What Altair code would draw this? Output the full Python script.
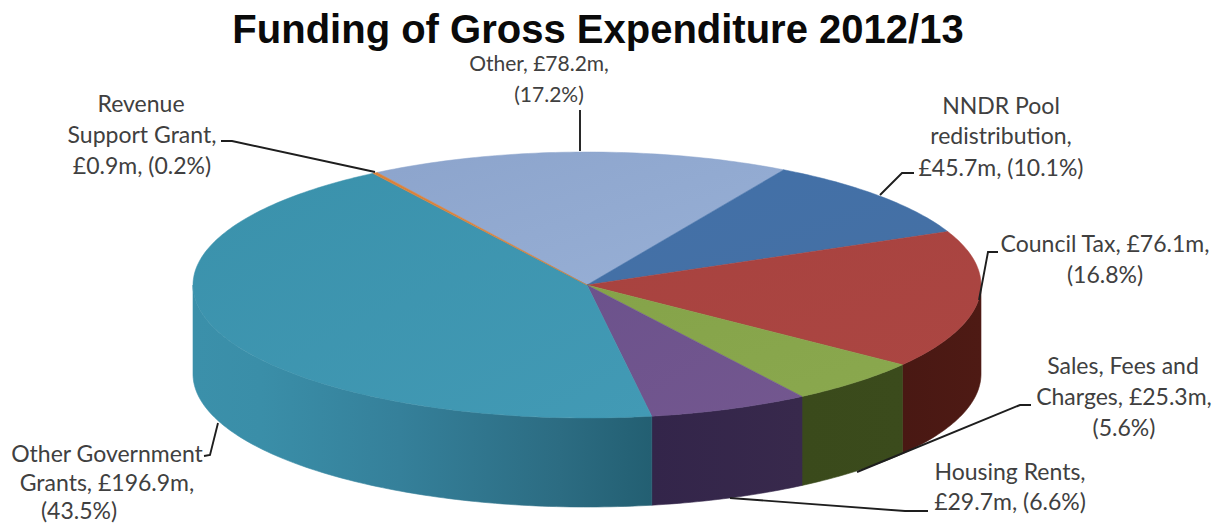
import math

import altair as alt
import pandas as pd

# Funding sources, clockwise from the top-left of the pie
names = ["Other", "NNDR Pool redistribution", "Council Tax", "Sales, Fees and Charges",
         "Housing Rents", "Other Government Grants", "Revenue Support Grant"]
values = [78.2, 45.7, 76.1, 25.3, 29.7, 196.9, 0.9]

top_fills = [("#8CA4CC", "#98B0D6"), ("#4270A8", "#4570A4"), ("#A8423F", "#AB4642"),
             ("#85A349", "#8AA84E"), ("#6C528C", "#73578F"), ("#3A91AB", "#429AB5"),
             ("#D9813A", "#D9813A")]
wall_stops = [
    None, None,
    [("#491813", 0.0), ("#4E1A14", 1.0)],
    [("#3A4A1B", 0.0), ("#3B4B1C", 1.0)],
    [("#33254A", 0.0), ("#38294C", 1.0)],
    [("#3B90AA", 0.0), ("#3A8EA8", 0.15), ("#35809A", 0.45), ("#2C6C82", 0.8), ("#235F72", 1.0)],
    None,
]

# Label text, one row per drawn line
label_lines = [
    ("Other, £78.2m,", 539, 65, 21), ("(17.2%)", 549, 96, 21),
    ("Revenue", 141, 105, 23), ("Support Grant,", 142, 136, 23), ("£0.9m, (0.2%)", 142, 167, 23),
    ("NNDR Pool", 1001, 107, 23), ("redistribution,", 1001, 137, 23), ("£45.7m, (10.1%)", 1001, 169, 23),
    ("Council Tax, £76.1m,", 1105, 245, 23), ("(16.8%)", 1105, 276, 23),
    ("Sales, Fees and", 1123, 367, 23), ("Charges, £25.3m,", 1124, 398, 23), ("(5.6%)", 1124, 429, 23),
    ("Housing Rents,", 1010, 473, 23), ("£29.7m, (6.6%)", 1010, 503, 23),
    ("Other Government", 107, 455, 23), ("Grants, £196.9m,", 107, 484, 23), ("(43.5%)", 79, 512, 23),
]

# Leader lines from each label to its slice
leaders = [
    [(580, 110), (580, 151)],
    [(221, 141), (232, 141), (375, 172)],
    [(880, 195), (902, 173), (914, 173)],
    [(979, 300), (988, 252), (998, 252)],
    [(857, 472), (1020, 405), (1031, 405)],
    [(730, 498), (905, 511), (928, 511)],
    [(218, 423), (210, 455), (204, 456)],
]

# Pie geometry on the page
CX, CY, RX, RY, DEPTH = 587, 285, 394, 133, 89
START_DEG = -32.2
W, H = 1217, 526

scale_x = alt.Scale(domain=[0, W], range=[0, W])
scale_y = alt.Scale(domain=[0, H], range=[0, H])
X = alt.X("x:Q", scale=scale_x, axis=None)
Y = alt.Y("y:Q", scale=scale_y, axis=None)


def rim(deg):
    a = math.radians(deg)
    return CX + RX * math.sin(a), CY - RY * math.cos(a)


def sweep(a0, a1):
    n = max(2, int(abs(a1 - a0)) + 2)
    return [a0 + (a1 - a0) * i / (n - 1) for i in range(n)]


total = sum(values)
bounds = [START_DEG]
for v in values:
    bounds.append(bounds[-1] + v / total * 360)

layers = []

# Side walls: only the part of the rim on the near half of the pie
for i, stops in enumerate(wall_stops):
    if stops is None:
        continue
    lo = max(bounds[i], 90)
    hi = min(bounds[i + 1], 270)
    rows = []
    for d in sweep(lo, hi):
        px, py = rim(d)
        rows.append({"x": px, "y": py, "y2": py + DEPTH})
    fill = alt.Gradient(gradient="linear", x1=0, x2=1, y1=0, y2=0,
                        stops=[alt.GradientStop(color=c, offset=o) for c, o in stops])
    layers.append(
        alt.Chart(pd.DataFrame(rows)).mark_area(color=fill, stroke=fill, strokeWidth=0.6).encode(
            x=X, y=Y, y2="y2:Q"
        )
    )

# Top faces
for i, (c0, c1) in enumerate(top_fills):
    pts = [(CX, CY)] + [rim(d) for d in sweep(bounds[i], bounds[i + 1])] + [(CX, CY)]
    df = pd.DataFrame({"x": [p[0] for p in pts], "y": [p[1] for p in pts], "k": range(len(pts))})
    fill = alt.Gradient(gradient="linear", x1=0, x2=1, y1=0, y2=1,
                        stops=[alt.GradientStop(color=c0, offset=0),
                               alt.GradientStop(color=c1, offset=1)])
    layers.append(
        alt.Chart(df).mark_line(fill=fill, stroke=c0, strokeWidth=0.5).encode(
            x=X, y=Y, order="k:Q"
        )
    )

# Leaders
lead_rows = []
for j, path in enumerate(leaders):
    for k, (px, py) in enumerate(path):
        lead_rows.append({"x": px, "y": py, "g": j, "k": k})
layers.append(
    alt.Chart(pd.DataFrame(lead_rows)).mark_line(color="#1E1E1E", strokeWidth=1.9).encode(
        x=X, y=Y, detail="g:N", order="k:Q"
    )
)

# Labels
text_df = pd.DataFrame(label_lines, columns=["t", "x", "y", "fs"])
for fs, rows in text_df.groupby("fs"):
    layers.append(
        alt.Chart(rows).mark_text(font="Lato", fontSize=int(fs), color="#404040", align="center",
                                  baseline="middle").encode(x=X, y=Y, text="t:N")
    )

# Title
title_df = pd.DataFrame({"t": ["Funding of Gross Expenditure 2012/13"], "x": [598], "y": [31]})
layers.append(
    alt.Chart(title_df).mark_text(font="Liberation Sans", fontSize=40, fontWeight="bold",
                                  color="#0A0A0A", align="center", baseline="middle").encode(
        x=X, y=Y, text="t:N"
    )
)

chart = alt.layer(*layers).properties(
    width=W, height=H, padding=0, autosize=alt.AutoSizeParams(type="none"),
    background="white",
).configure_view(stroke=None)

chart.save("out.html", embed_options={"renderer": "svg", "actions": False})
